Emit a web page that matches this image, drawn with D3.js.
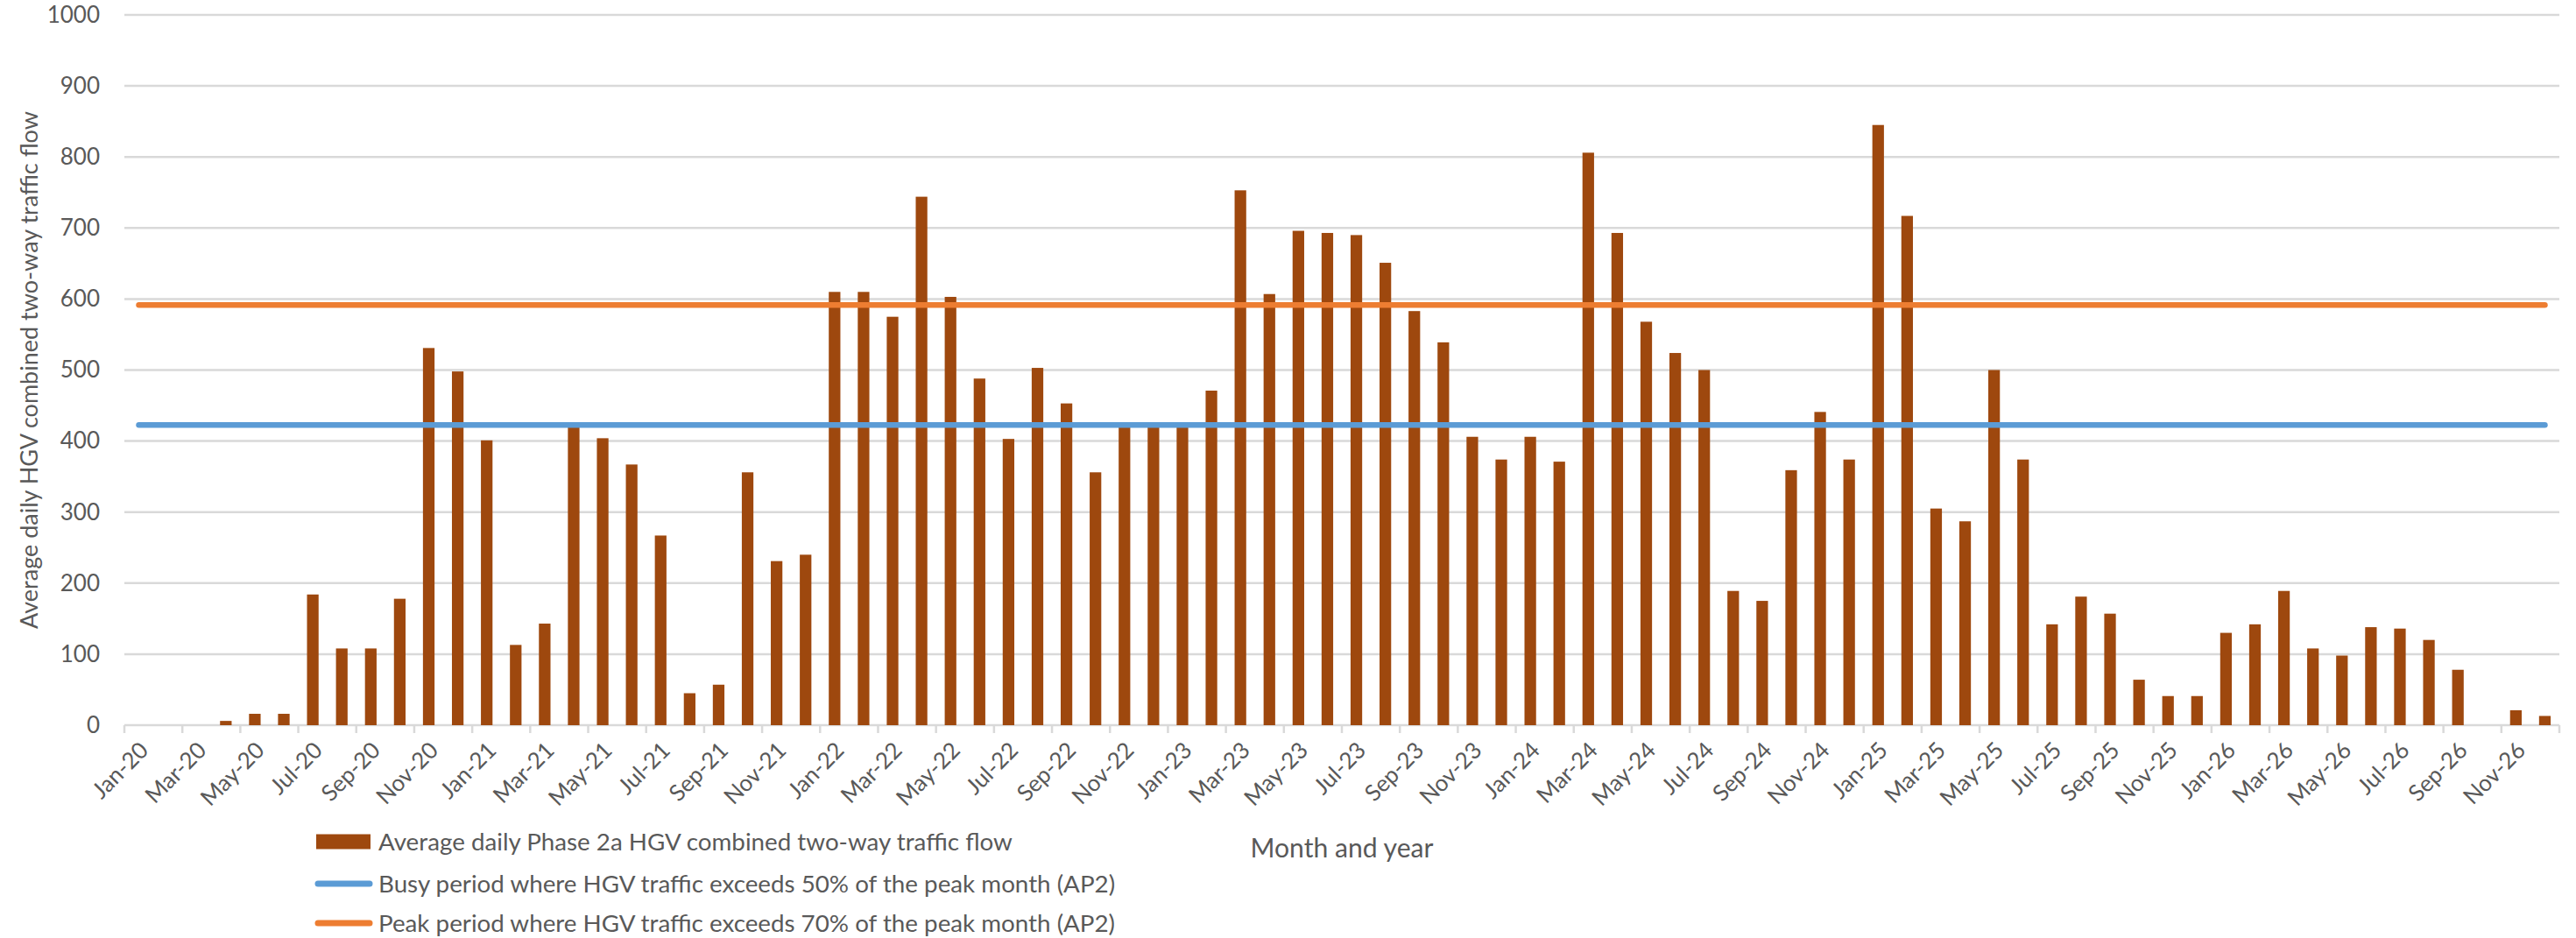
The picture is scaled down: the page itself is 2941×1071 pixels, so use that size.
<!DOCTYPE html>
<html><head><meta charset="utf-8">
<script src="https://cdn.jsdelivr.net/npm/d3@7/dist/d3.min.js"></script>
<style>
body{margin:0;background:#fff}
text{font-family:Lato,"Liberation Sans",sans-serif;fill:#595959}
</style>
</head><body>
<svg id="chart" width="2941" height="1071"></svg>
<script>
const months = [
"Jan-20","Feb-20","Mar-20","Apr-20","May-20","Jun-20","Jul-20","Aug-20","Sep-20","Oct-20","Nov-20","Dec-20",
"Jan-21","Feb-21","Mar-21","Apr-21","May-21","Jun-21","Jul-21","Aug-21","Sep-21","Oct-21","Nov-21","Dec-21",
"Jan-22","Feb-22","Mar-22","Apr-22","May-22","Jun-22","Jul-22","Aug-22","Sep-22","Oct-22","Nov-22","Dec-22",
"Jan-23","Feb-23","Mar-23","Apr-23","May-23","Jun-23","Jul-23","Aug-23","Sep-23","Oct-23","Nov-23","Dec-23",
"Jan-24","Feb-24","Mar-24","Apr-24","May-24","Jun-24","Jul-24","Aug-24","Sep-24","Oct-24","Nov-24","Dec-24",
"Jan-25","Feb-25","Mar-25","Apr-25","May-25","Jun-25","Jul-25","Aug-25","Sep-25","Oct-25","Nov-25","Dec-25",
"Jan-26","Feb-26","Mar-26","Apr-26","May-26","Jun-26","Jul-26","Aug-26","Sep-26","Oct-26","Nov-26","Dec-26"];

const hgvFlow = [
0,0,0,6,16,16,184,108,108,178,531,498,
401,113,143,420,404,367,267,45,57,356,231,240,
610,610,575,744,603,488,403,503,453,356,420,420,
420,471,753,607,696,693,690,651,583,539,406,374,
406,371,806,693,568,524,500,189,175,359,441,374,
845,717,305,287,500,374,142,181,157,64,41,41,
130,142,189,108,98,138,136,120,78,0,21,13];

const busyLevel = [422.5];
const peakLevel = [591.5];

const yTicks = [0,100,200,300,400,500,600,700,800,900,1000];
const xTickLabels = ["Jan-20","Mar-20","May-20","Jul-20","Sep-20","Nov-20",
"Jan-21","Mar-21","May-21","Jul-21","Sep-21","Nov-21",
"Jan-22","Mar-22","May-22","Jul-22","Sep-22","Nov-22",
"Jan-23","Mar-23","May-23","Jul-23","Sep-23","Nov-23",
"Jan-24","Mar-24","May-24","Jul-24","Sep-24","Nov-24",
"Jan-25","Mar-25","May-25","Jul-25","Sep-25","Nov-25",
"Jan-26","Mar-26","May-26","Jul-26","Sep-26","Nov-26"];

const legendLabels = [
"Average daily Phase 2a HGV combined two-way traffic flow",
"Busy period where HGV traffic exceeds 50% of the peak month (AP2)",
"Peak period where HGV traffic exceeds 70% of the peak month (AP2)"];

const barColor = "#9E480E", busyColor = "#5B9BD5", peakColor = "#ED7D31", gridColor = "#D9D9D9";

const L = 142, R = 2922, T = 17, B = 828;
const svg = d3.select("#chart");

const x = d3.scaleBand().domain(months).range([L, R]).paddingInner(0.6).paddingOuter(0.3);
const y = d3.scaleLinear().domain([0, 1000]).range([B, T]);
const step = x.step();

// gridlines
svg.append("g").selectAll("line").data(yTicks).join("line")
  .attr("x1", L).attr("x2", R)
  .attr("y1", d => y(d)).attr("y2", d => y(d))
  .attr("stroke", gridColor).attr("stroke-width", 2.5);

// y axis labels
const yAxis = d3.axisLeft(y).tickValues(yTicks).tickSize(0).tickPadding(0).tickFormat(d3.format("d"));
const yg = svg.append("g").attr("transform", `translate(${L - 28},0)`).call(yAxis);
yg.select(".domain").remove();
yg.selectAll("text").style("font-family", "Lato,'Liberation Sans',sans-serif").attr("font-size", 26).attr("fill", "#595959");

// x axis ticks at category boundaries every 2 months
const tickBounds = d3.range(0, months.length + 1, 2);
const x0 = x(months[0]) - (step - x.bandwidth()) / 2;
svg.append("g").selectAll("line").data(tickBounds).join("line")
  .attr("x1", d => x0 + d * step).attr("x2", d => x0 + d * step)
  .attr("y1", B).attr("y2", B + 9)
  .attr("stroke", gridColor).attr("stroke-width", 2.5);

// bars
svg.append("g").selectAll("rect").data(months.map((m, i) => ({m, v: hgvFlow[i]}))).join("rect")
  .attr("x", d => x(d.m)).attr("width", x.bandwidth())
  .attr("y", d => y(d.v)).attr("height", d => B - y(d.v))
  .attr("fill", barColor);

// threshold lines
const lineGen = d3.line().x(d => x(d.m) + x.bandwidth() / 2).y(d => y(d.v));
[[busyLevel[0], busyColor], [peakLevel[0], peakColor]].forEach(([lvl, col]) => {
  svg.append("path").datum(months.map(m => ({m, v: lvl})))
    .attr("d", lineGen).attr("fill", "none").attr("stroke", col)
    .attr("stroke-width", 6.5).attr("stroke-linecap", "round");
});

// x labels
svg.append("g").selectAll("text").data(xTickLabels).join("text")
  .attr("transform", d => `translate(${x(d) + x.bandwidth() / 2 + 6},${B + 24}) rotate(-45)`)
  .attr("text-anchor", "end").attr("dy", "0.35em")
  .attr("font-size", 26).text(d => d);

// axis titles
svg.append("text").attr("transform", `translate(34,${(T + B) / 2}) rotate(-90)`)
  .attr("text-anchor", "middle").attr("dy", "0.35em").attr("font-size", 27)
  .text("Average daily HGV combined two-way traffic flow");
const xt = svg.append("text").attr("x", (L + R) / 2).attr("y", 968).attr("dy", "0.35em")
  .attr("text-anchor", "middle").attr("font-size", 28).text("Month and year");
// fit title width to reference (~209px)
{
  const w = xt.node().getComputedTextLength();
  xt.attr("font-size", 28 * 209 / w);
}

// legend
const lg = svg.append("g");
const rowsY = [961, 1009, 1054];
lg.append("rect").attr("x", 361).attr("y", rowsY[0] - 8.5).attr("width", 62).attr("height", 17).attr("fill", barColor);
[[busyColor, rowsY[1]], [peakColor, rowsY[2]]].forEach(([c, yy]) => {
  lg.append("line").attr("x1", 363).attr("x2", 422).attr("y1", yy).attr("y2", yy)
    .attr("stroke", c).attr("stroke-width", 7).attr("stroke-linecap", "round");
});
const lt = lg.selectAll("text").data(legendLabels).join("text")
  .attr("x", 432).attr("y", (d, i) => rowsY[i]).attr("dy", "0.35em")
  .attr("font-size", 25).text(d => d);
// fit legend text so the first label spans ~724px as in the reference
{
  const w = lt.nodes()[0].getComputedTextLength();
  lt.attr("font-size", 25 * 724 / w);
}
</script>
</body></html>
